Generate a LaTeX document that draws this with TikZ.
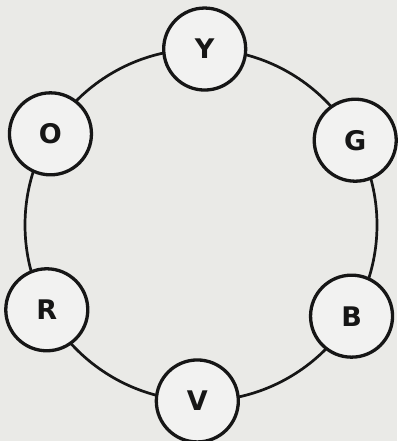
\documentclass[tikz,border=0pt]{standalone}
\usepackage{fontspec}
\setsansfont{DejaVu Sans}
\usetikzlibrary{calc}
\definecolor{paper}{RGB}{234,234,231}
\definecolor{ink}{RGB}{22,22,22}
\begin{document}
\begin{tikzpicture}[x=1pt,y=1pt,
  ring/.style={draw=ink,line width=2.7pt},
  colorbox/.style={circle,draw=ink,line width=3.3pt,fill=paper!60!white,minimum size=82pt,inner sep=0pt,
    font=\sffamily\bfseries\fontsize{27}{27}\selectfont,text=ink}]
\fill[paper] (0,0) rectangle (397,441);
\useasboundingbox (0,0) rectangle (397,441);
\coordinate (c) at (201,216);
\draw[ring] (c) circle[radius=176];
\node[colorbox] (Y) at ($(c)+(88.8:176)$) {Y};
\node[colorbox] (O) at ($(c)+(148.8:176)$) {O};
\node[colorbox] (R) at ($(c)+(208.8:176)$) {R};
\node[colorbox] (V) at ($(c)+(268.8:176)$) {V};
\node[colorbox] (B) at ($(c)+(328.8:176)$) {B};
\node[colorbox] (G) at ($(c)+(28.8:176)$) {G};
\end{tikzpicture}
\end{document}
